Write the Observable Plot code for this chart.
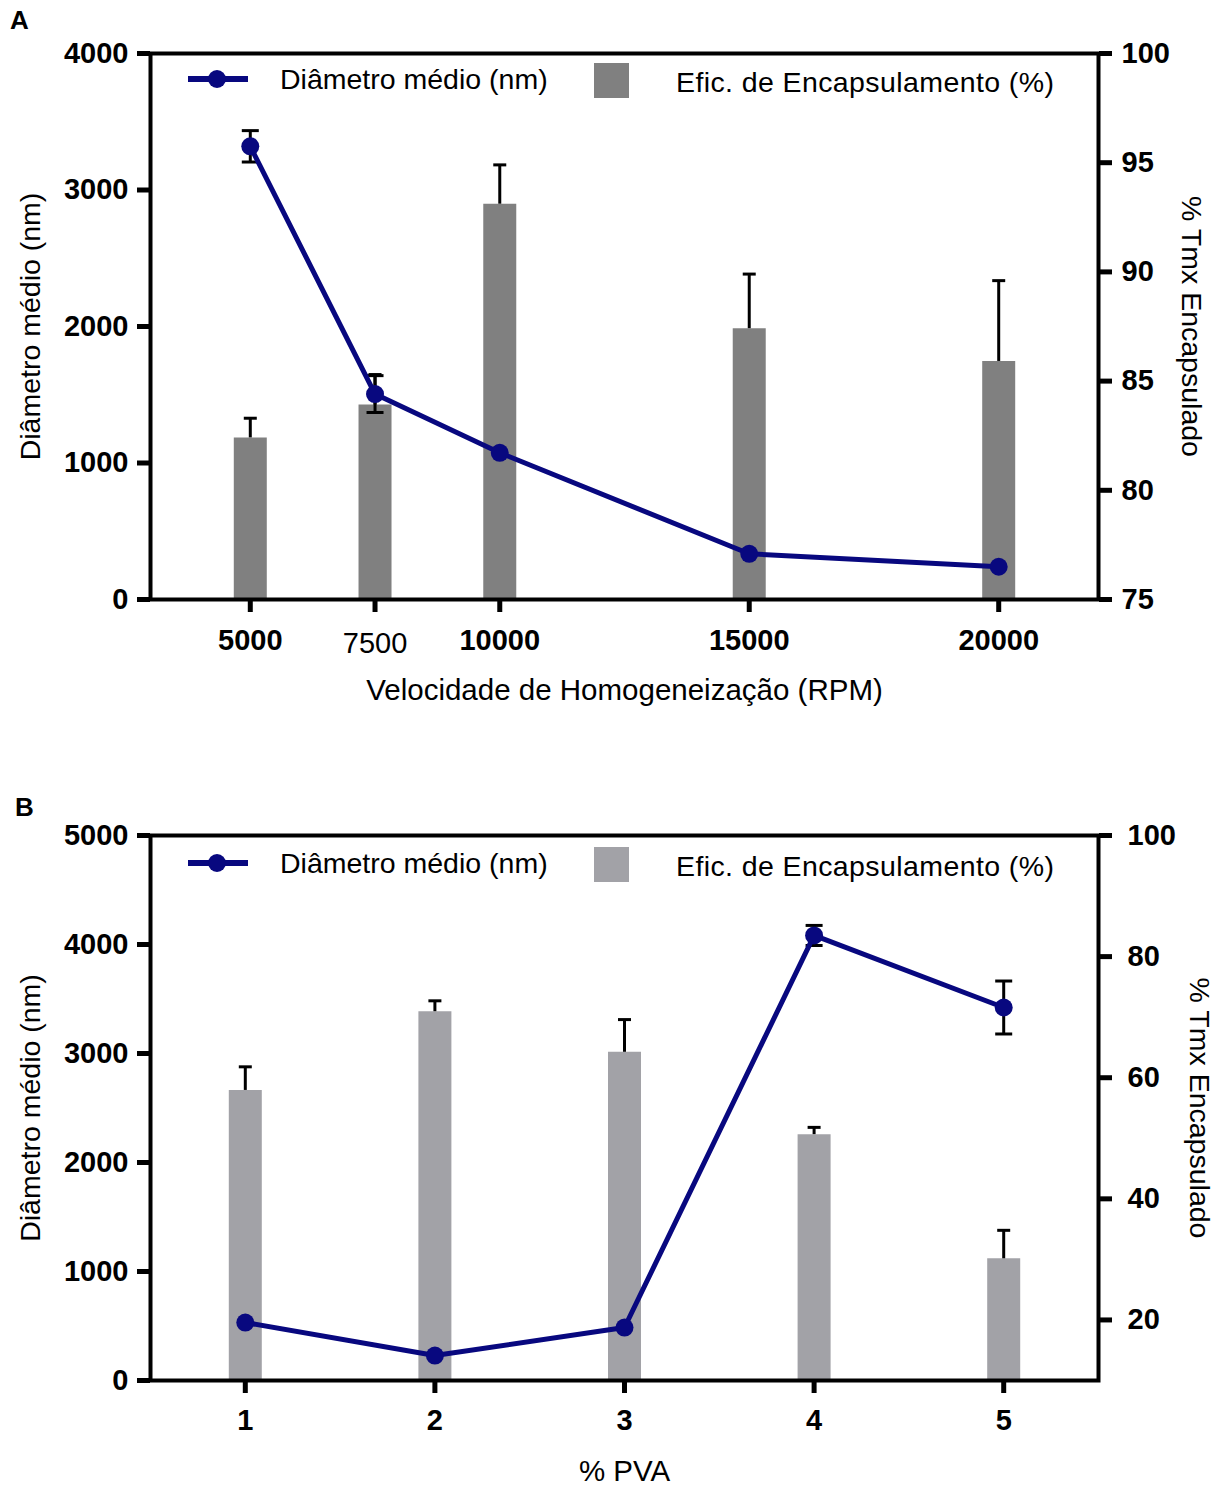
<!DOCTYPE html>
<html>
<head>
<meta charset="utf-8">
<script src="https://cdn.jsdelivr.net/npm/d3@7"></script>
<script src="https://cdn.jsdelivr.net/npm/@observablehq/plot@0.6"></script>
<style>
  body { margin: 0; background: white; font-family: "Liberation Sans", Arial, sans-serif; }
  #wrap { position: relative; width: 1222px; height: 1486px; overflow: hidden; }
  .abs { position: absolute; white-space: nowrap; color: black; }
  .leg { font-size: 28.5px; line-height: 28px; }
  .panel { font-size: 26px; font-weight: bold; }
</style>
</head>
<body>
<div id="wrap"></div>
<script>
// ---------- Panel A data ----------
const rpm = [5000, 7500, 10000, 15000, 20000];
const diamA = [3320, 1505, 1075, 335, 240];
const diamErrA = [115, 135, 0, 0, 0];
const effA = [82.4, 83.9, 93.1, 87.4, 85.9];
const effErrA = [0.9, 1.4, 1.8, 2.5, 3.7];
const leftTicksA = [0, 1000, 2000, 3000, 4000];
const rightTicksA = [75, 80, 85, 90, 95, 100];
const boldTicksA = [5000, 10000, 15000, 20000];
const plainTicksA = [7500];

// ---------- Panel B data ----------
const pva = [1, 2, 3, 4, 5];
const diamB = [532, 229, 486, 4083, 3422];
const diamErrB = [0, 0, 0, 92, 243];
const effB = [57.9, 70.9, 64.2, 50.6, 30.1];
const effErrB = [3.9, 1.8, 5.4, 1.2, 4.7];
const leftTicksB = [0, 1000, 2000, 3000, 4000, 5000];
const rightTicksB = [20, 40, 60, 80, 100];

const NAVY = "#08087f";
const FONT = "'Liberation Sans', Arial, sans-serif";

const capSymbol = {
  draw(ctx, size) {
    const r = Math.sqrt(size / Math.PI);
    ctx.moveTo(-r, 0);
    ctx.lineTo(r, 0);
  }
};

function panel({xs, diam, diamErr, eff, effErr, effMin, effMax, yMax, leftTicks, rightTicks,
                xDomain, barColor, height, marginTop, marginBottom, xTitle, xTickSets, rightDx, rightPad}) {
  const toLeft = v => (v - effMin) / (effMax - effMin) * yMax;
  const rows = xs.map((x, i) => ({
    x, d: diam[i], de: diamErr[i],
    base: toLeft(effMin), bar: toLeft(eff[i]), barTop: toLeft(eff[i] + effErr[i])
  }));
  const errRows = rows.filter(r => r.de > 0);
  const fmt = d3.format("d");
  const marks = [
    // bars (right scale mapped onto left)
    Plot.ruleX(rows, {x: "x", y1: "base", y2: "bar", stroke: barColor, strokeWidth: 33}),
    Plot.ruleX(rows, {x: "x", y1: "bar", y2: "barTop", stroke: "black", strokeWidth: 3}),
    Plot.dot(rows, {x: "x", y: "barTop", symbol: capSymbol, r: 6.5, stroke: "black", strokeWidth: 3, fill: "none"}),
    // line error bars
    Plot.ruleX(errRows, {x: "x", y1: d => d.d - d.de, y2: d => d.d + d.de, stroke: "black", strokeWidth: 3}),
    Plot.dot(errRows, {x: "x", y: d => d.d - d.de, symbol: capSymbol, r: 8.5, stroke: "black", strokeWidth: 3, fill: "none"}),
    Plot.dot(errRows, {x: "x", y: d => d.d + d.de, symbol: capSymbol, r: 8.5, stroke: "black", strokeWidth: 3, fill: "none"}),
    // line
    Plot.line(rows, {x: "x", y: "d", stroke: NAVY, strokeWidth: 5}),
    Plot.dot(rows, {x: "x", y: "d", r: 9, fill: NAVY, stroke: "none"}),
    // frame
    Plot.frame({stroke: "black", strokeWidth: 4}),
    // axes
    Plot.axisY({anchor: "left", ticks: leftTicks, tickFormat: fmt, tickSize: 13, strokeWidth: 5,
                tickPadding: 9, fontSize: 29, fontWeight: "bold", label: null}),
    Plot.axisY({anchor: "right", ticks: rightTicks.map(toLeft),
                tickFormat: d => fmt(Math.round(effMin + d / yMax * (effMax - effMin))),
                tickSize: 13, strokeWidth: 5, tickPadding: rightPad, fontSize: 29, fontWeight: "bold", label: null}),
    ...xTickSets.map(s => Plot.axisX({anchor: "bottom", ticks: s.ticks, tickFormat: fmt, tickSize: 13,
                strokeWidth: 5, tickPadding: s.pad, fontSize: 29, fontWeight: s.weight, label: null})),
    // titles
    Plot.text(["Diâmetro médio (nm)"], {text: d => d, frameAnchor: "left", dx: -120, rotate: -90,
                fontSize: 28.5, textAnchor: "middle", lineAnchor: "middle"}),
    Plot.text(["% Tmx Encapsulado"], {text: d => d, frameAnchor: "right", dx: rightDx, rotate: 90,
                fontSize: 28.5, textAnchor: "middle", lineAnchor: "middle"}),
    Plot.text([xTitle], {text: d => d, frameAnchor: "bottom", dy: 91, fontSize: 29.5,
                textAnchor: "middle", lineAnchor: "middle"})
  ];
  return Plot.plot({
    width: 1222, height, marginLeft: 150, marginRight: 124, marginTop, marginBottom,
    style: {fontFamily: FONT, background: "white", overflow: "visible", color: "black"},
    x: {type: "linear", domain: xDomain, axis: null},
    y: {domain: [0, yMax], axis: null},
    marks
  });
}

const wrap = document.getElementById("wrap");

const plotA = panel({
  xs: rpm, diam: diamA, diamErr: diamErrA, eff: effA, effErr: effErrA,
  effMin: 75, effMax: 100, yMax: 4000, leftTicks: leftTicksA, rightTicks: rightTicksA,
  xDomain: [3000, 22000], barColor: "#808080", height: 720, marginTop: 53, marginBottom: 121,
  xTitle: "Velocidade de Homogeneização (RPM)",
  xTickSets: [{ticks: boldTicksA, pad: 17, weight: "bold"}, {ticks: plainTicksA, pad: 20, weight: "normal"}],
  rightDx: 93, rightPad: 10
});
plotA.style.position = "absolute"; plotA.style.left = "0px"; plotA.style.top = "0px";
wrap.appendChild(plotA);

const plotB = panel({
  xs: pva, diam: diamB, diamErr: diamErrB, eff: effB, effErr: effErrB,
  effMin: 10, effMax: 100, yMax: 5000, leftTicks: leftTicksB, rightTicks: rightTicksB,
  xDomain: [0.5, 5.5], barColor: "#a2a2a7", height: 766, marginTop: 115, marginBottom: 106,
  xTitle: "% PVA",
  xTickSets: [{ticks: pva, pad: 16, weight: "bold"}],
  rightDx: 101, rightPad: 16
});
plotB.style.position = "absolute"; plotB.style.left = "0px"; plotB.style.top = "720px";
wrap.appendChild(plotB);

// ---------- legends & panel letters (HTML overlay) ----------
function add(html, left, top, cls, extra) {
  const el = document.createElement("div");
  el.className = "abs " + (cls || "");
  el.style.left = left + "px"; el.style.top = top + "px";
  if (extra) Object.assign(el.style, extra);
  el.innerHTML = html;
  wrap.appendChild(el);
  return el;
}
const lineKey = `<svg width="62" height="22"><line x1="1" x2="61" y1="11" y2="11" stroke="${NAVY}" stroke-width="6"/><circle cx="30" cy="11" r="9" fill="${NAVY}"/></svg>`;
function legend(top, barColor) {
  add(lineKey, 187, top - 11);
  add("Diâmetro médio (nm)", 280, top - 14, "leg");
  add(`<div style="width:35px;height:35px;background:${barColor}"></div>`, 594, top - 16);
  add("Efic. de Encapsulamento (%)", 676, top - 11, "leg", {letterSpacing: "0.4px"});
}
legend(79, "#808080");
legend(863, "#a2a2a7");
add("A", 10, 5, "panel");
add("B", 15, 792, "panel");
</script>
</body>
</html>
